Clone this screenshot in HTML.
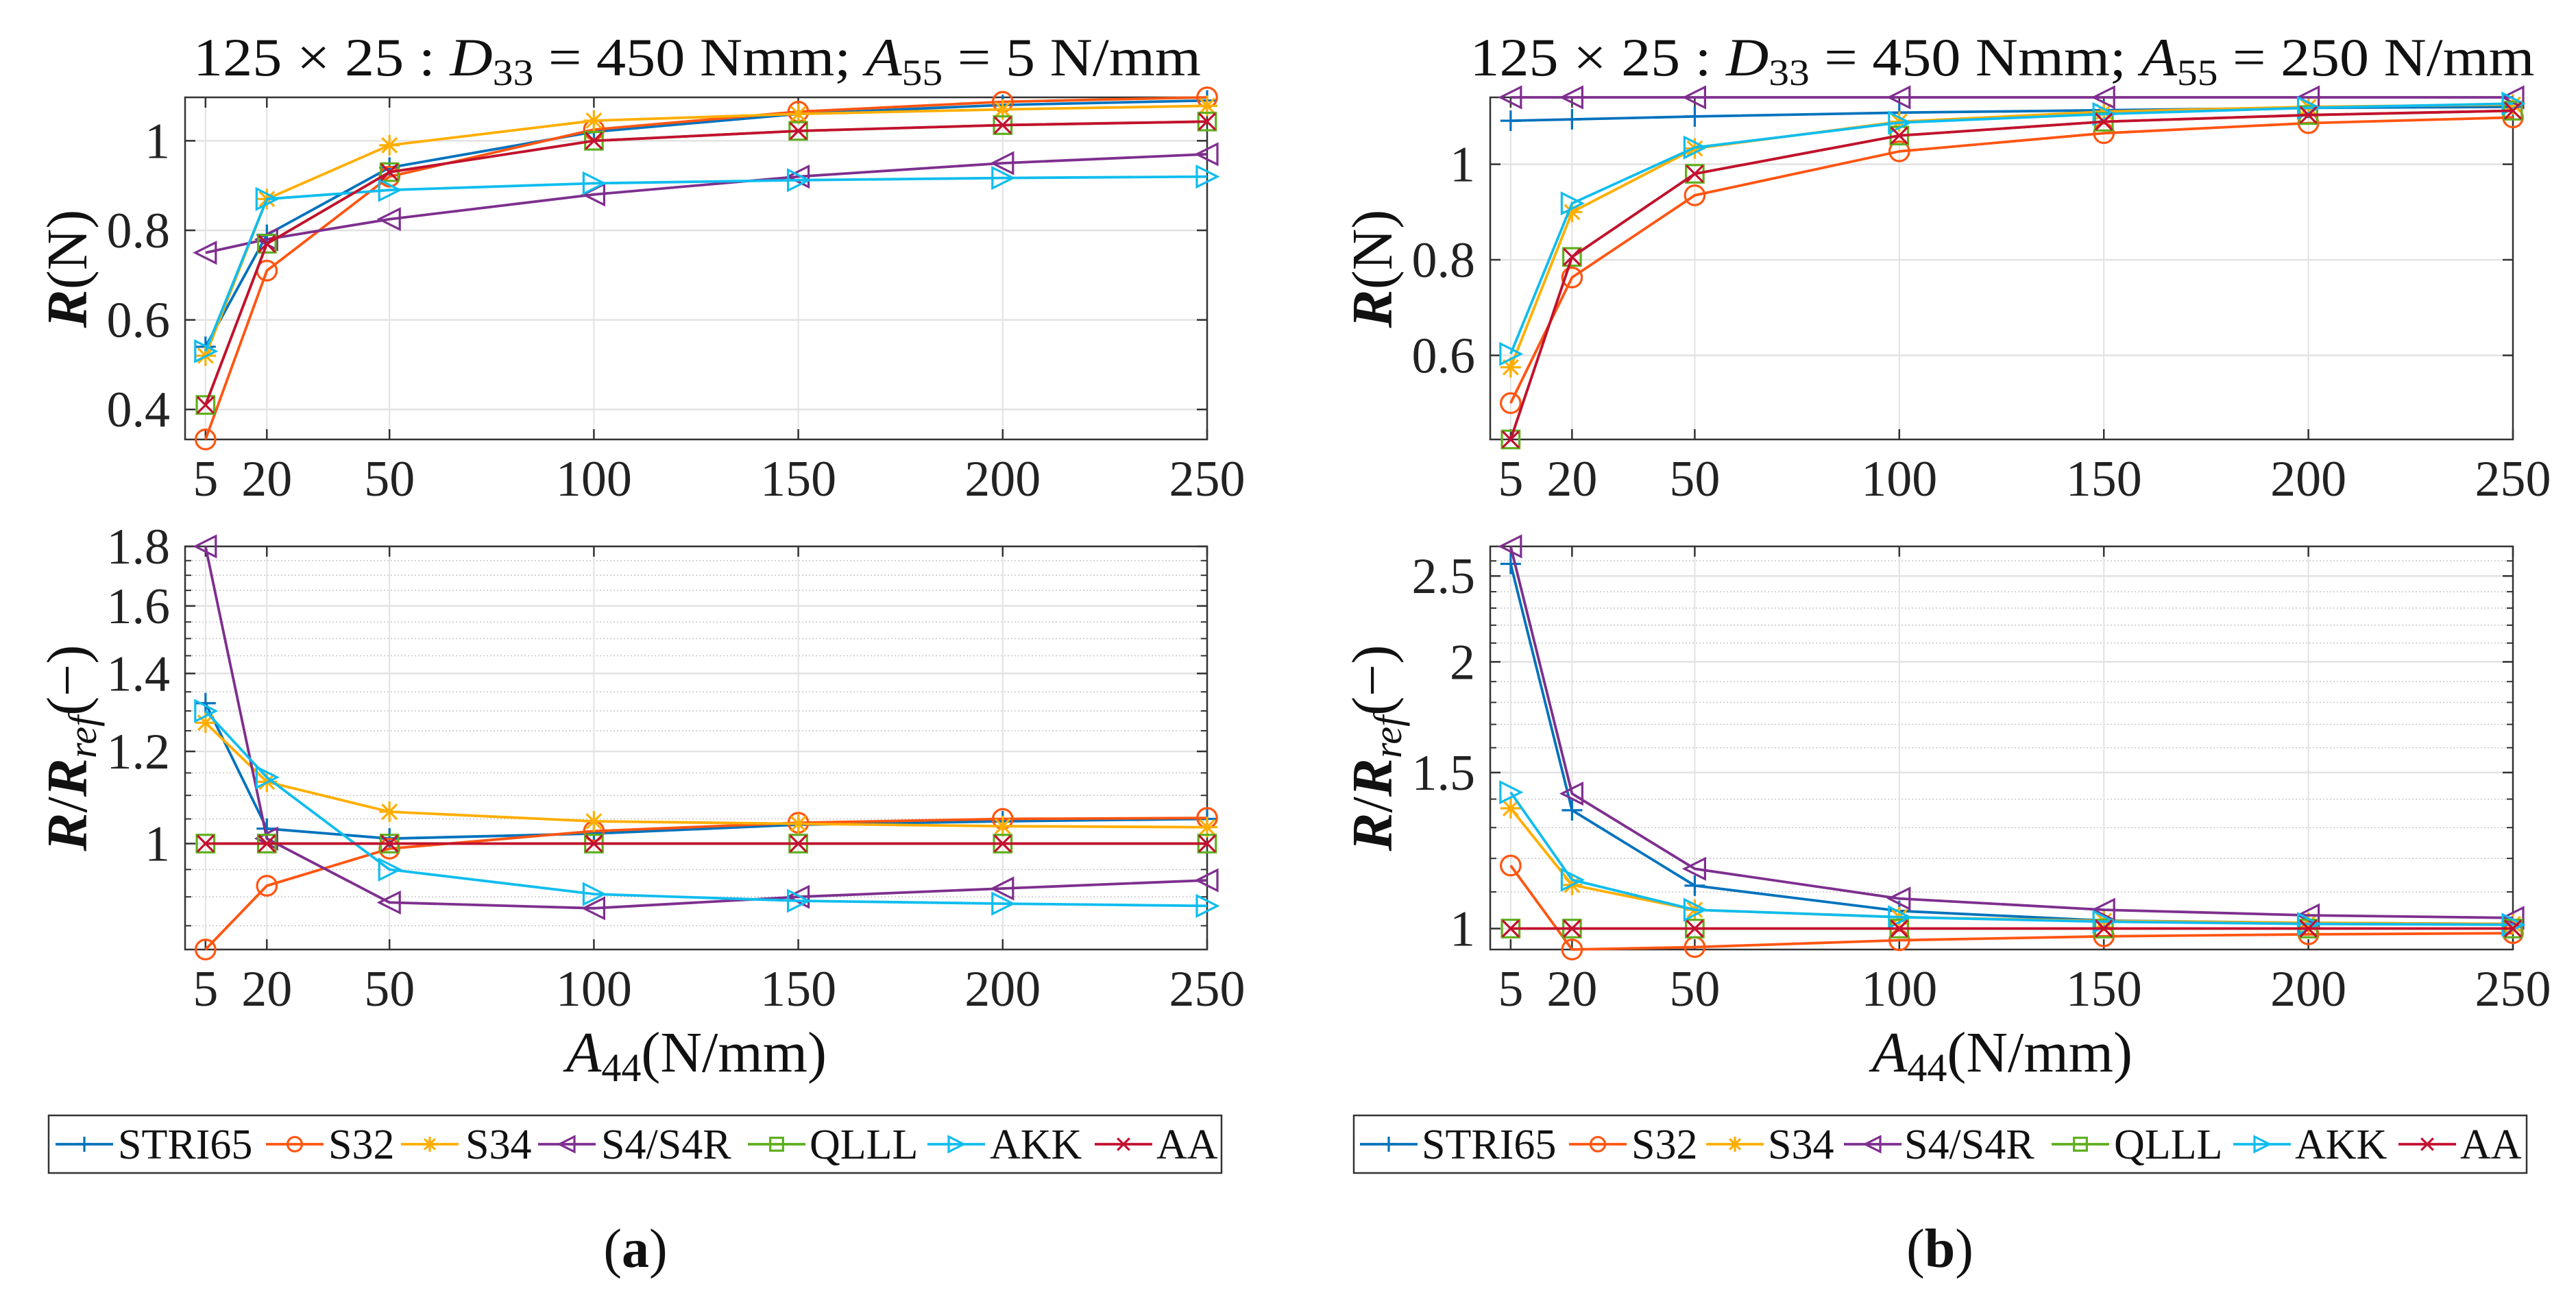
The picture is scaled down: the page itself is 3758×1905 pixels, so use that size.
<!DOCTYPE html>
<html><head><meta charset="utf-8"><style>
html,body{margin:0;padding:0;background:#fff;}
svg{display:block;}
text{font-family:"Liberation Serif","DejaVu Serif",serif;}
</style></head><body>
<svg id="fig" width="3758" height="1905" viewBox="0 0 3758 1905" xmlns="http://www.w3.org/2000/svg" font-family="Liberation Serif, serif"></svg>
<script>
const xCats = [5, 20, 50, 100, 150, 200, 250];
const xTicks = [5, 20, 50, 100, 150, 200, 250];
const seriesNames = ["STRI65","S32","S34","S4/S4R","QLLL","AKK","AA"];
const colors = ["#0072BD","#FF5511","#FFAE00","#7E2F8E","#5FAF1E","#10BDEE","#C4102F"];
const markers = ["plus","circle","star","tril","square","trir","x"];

// panel (a) R(N)
const aR_STRI65 = [0.54, 0.79, 0.94, 1.02, 1.06, 1.08, 1.09];
const aR_S32    = [0.333, 0.71, 0.92, 1.025, 1.065, 1.087, 1.097];
const aR_S34    = [0.52, 0.87, 0.99, 1.045, 1.06, 1.07, 1.078];
const aR_S4     = [0.75, 0.78, 0.825, 0.88, 0.92, 0.95, 0.97];
const aR_QLLL   = [0.41, 0.77, 0.93, 1.0, 1.022, 1.035, 1.043];
const aR_AKK    = [0.53, 0.87, 0.89, 0.905, 0.912, 0.917, 0.92];
const aR_AA     = [0.41, 0.77, 0.93, 1.0, 1.022, 1.035, 1.043];
// panel (a) R/Rref
const aQ_STRI65 = [1.32, 1.03, 1.01, 1.02, 1.038, 1.045, 1.05];
const aQ_S32    = [0.811, 0.92, 0.99, 1.025, 1.042, 1.05, 1.052];
const aQ_S34    = [1.27, 1.13, 1.065, 1.045, 1.04, 1.035, 1.033];
const aQ_S4     = [1.80, 1.01, 0.89, 0.88, 0.90, 0.915, 0.93];
const aQ_QLLL   = [1, 1, 1, 1, 1, 1, 1];
const aQ_AKK    = [1.30, 1.14, 0.95, 0.905, 0.893, 0.888, 0.884];
const aQ_AA     = [1, 1, 1, 1, 1, 1, 1];
// panel (b) R(N)
const bR_STRI65 = [1.091, 1.094, 1.10, 1.108, 1.113, 1.118, 1.12];
const bR_S32    = [0.50, 0.763, 0.935, 1.027, 1.065, 1.086, 1.098];
const bR_S34    = [0.575, 0.90, 1.033, 1.089, 1.11, 1.12, 1.125];
const bR_S4     = [1.14, 1.14, 1.14, 1.14, 1.14, 1.14, 1.14];
const bR_QLLL   = [0.424, 0.806, 0.98, 1.06, 1.089, 1.103, 1.112];
const bR_AKK    = [0.603, 0.918, 1.035, 1.087, 1.105, 1.118, 1.127];
const bR_AA     = [0.424, 0.806, 0.98, 1.06, 1.089, 1.103, 1.112];
// panel (b) R/Rref
const bQ_STRI65 = [2.58, 1.36, 1.118, 1.047, 1.021, 1.015, 1.012];
const bQ_S32    = [1.178, 0.947, 0.953, 0.97, 0.98, 0.985, 0.988];
const bQ_S34    = [1.367, 1.12, 1.05, 1.03, 1.02, 1.015, 1.012];
const bQ_S4     = [2.70, 1.42, 1.168, 1.081, 1.05, 1.035, 1.028];
const bQ_QLLL   = [1, 1, 1, 1, 1, 1, 1];
const bQ_AKK    = [1.425, 1.135, 1.05, 1.03, 1.018, 1.012, 1.01];
const bQ_AA     = [1, 1, 1, 1, 1, 1, 1];

const aRTicks = [0.4, 0.6, 0.8, 1];
const aQTicks = [1, 1.2, 1.4, 1.6, 1.8];
const bRTicks = [0.6, 0.8, 1];
const bQTicks = [1, 1.5, 2, 2.5];

const NS = "http://www.w3.org/2000/svg";
const svg = document.getElementById("fig");
const FF = "Liberation Serif, DejaVu Serif, serif";
function mk(tag, attrs, parent, text){
  const e = document.createElementNS(NS, tag);
  for (const k in attrs) e.setAttribute(k, attrs[k]);
  if (tag === "text") e.setAttribute("font-family", FF);
  if (text !== undefined) e.textContent = text;
  (parent || svg).appendChild(e);
  return e;
}

function marker(g, type, cx, cy, col, s){
  let e;
  const sw = 3.2;
  if (type === "plus"){
    e = mk("path",{d:`M${cx-s} ${cy}H${cx+s}M${cx} ${cy-s}V${cy+s}`,stroke:col,"stroke-width":sw,fill:"none"},g);
  } else if (type === "circle"){
    e = mk("circle",{cx:cx,cy:cy,r:s*0.95,stroke:col,"stroke-width":sw,fill:"none"},g);
  } else if (type === "star"){
    const d=s*0.72;
    e = mk("path",{d:`M${cx-s} ${cy}H${cx+s}M${cx} ${cy-s}V${cy+s}M${cx-d} ${cy-d}L${cx+d} ${cy+d}M${cx-d} ${cy+d}L${cx+d} ${cy-d}`,stroke:col,"stroke-width":sw,fill:"none"},g);
  } else if (type === "tril"){
    e = mk("path",{d:`M${cx-s} ${cy}L${cx+s} ${cy-s}L${cx+s} ${cy+s}Z`,stroke:col,"stroke-width":sw,fill:"none"},g);
  } else if (type === "trir"){
    e = mk("path",{d:`M${cx+s} ${cy}L${cx-s} ${cy-s}L${cx-s} ${cy+s}Z`,stroke:col,"stroke-width":sw,fill:"none"},g);
  } else if (type === "square"){
    e = mk("rect",{x:cx-s*0.85,y:cy-s*0.85,width:s*1.7,height:s*1.7,stroke:col,"stroke-width":sw,fill:"none"},g);
  } else {
    const d=s*0.8;
    e = mk("path",{d:`M${cx-d} ${cy-d}L${cx+d} ${cy+d}M${cx-d} ${cy+d}L${cx+d} ${cy-d}`,stroke:col,"stroke-width":sw,fill:"none"},g);
  }
  return e;
}

function panel(opt){
  const g = mk("g",{});
  
  
  const L=opt.L,R=opt.R,T=opt.T,B=opt.B;
  const xs = v => L + (v-0)/250*(R-L);
  let ys;
  if (opt.log){
    const a=Math.log10(opt.ymin), b=Math.log10(opt.ymax);
    ys = v => B - (Math.log10(v)-a)/(b-a)*(B-T);
  } else {
    ys = v => B - (v-opt.ymin)/(opt.ymax-opt.ymin)*(B-T);
  }
  if (opt.minor){
    for (const m of opt.minor){
      if (m<=opt.ymin||m>=opt.ymax) continue;
      const y=ys(m);
      mk("line",{x1:L,x2:R,y1:y,y2:y,stroke:"#c8c8c8","stroke-width":1.5,"stroke-dasharray":"2 3"},g);
      mk("line",{x1:L,x2:L+9,y1:y,y2:y,stroke:"#333","stroke-width":2},g);
      mk("line",{x1:R-9,x2:R,y1:y,y2:y,stroke:"#333","stroke-width":2},g);
    }
  }
  for (const t of xTicks){
    const x=xs(t);
    mk("line",{x1:x,x2:x,y1:T,y2:B,stroke:"#e2e2e2","stroke-width":2},g);
  }
  for (const t of opt.yTicks){
    const y=ys(t);
    mk("line",{x1:L,x2:R,y1:y,y2:y,stroke:"#e2e2e2","stroke-width":2.5},g);
  }
  const box = mk("rect",{x:L,y:T,width:R-L,height:B-T,fill:"none",stroke:"#333","stroke-width":2.5},g);
  
  
  const xg = mk("g",{},g);
  
  
  for (const t of xTicks){
    const x=xs(t);
    mk("line",{x1:x,x2:x,y1:B,y2:B-15,stroke:"#333","stroke-width":2.5},xg);
    mk("line",{x1:x,x2:x,y1:T,y2:T+15,stroke:"#333","stroke-width":2.5},xg);
    const tl = mk("text",{x:x,y:B+82,"text-anchor":"middle","font-size":74,fill:"#222"},xg,String(t));
    
    
  }
  const yg = mk("g",{},g);
  
  
  for (const t of opt.yTicks){
    const y=ys(t);
    mk("line",{x1:L,x2:L+15,y1:y,y2:y,stroke:"#333","stroke-width":2.5},yg);
    mk("line",{x1:R-15,x2:R,y1:y,y2:y,stroke:"#333","stroke-width":2.5},yg);
    const tl = mk("text",{x:opt.ytlx,y:y+25,"text-anchor":"end","font-size":74,fill:"#222"},yg,String(t));
    
    
  }
  const clip = "clip_"+opt.name;
  const cp = mk("clipPath",{id:clip},g);
  mk("rect",{x:L-40,y:T-40,width:R-L+80,height:B-T+80},cp);
  opt.data.forEach((vals,i)=>{
    const sg = mk("g",{"clip-path":`url(#${clip})`},g);
    
    
    const pts = vals.map((v,j)=>`${xs(xCats[j]).toFixed(1)},${ys(v).toFixed(1)}`).join(" ");
    const pl = mk("polyline",{points:pts,fill:"none",stroke:colors[i],"stroke-width":3.8,"stroke-linejoin":"round"},sg);
    
    
    vals.forEach((v,j)=>{
      const m = marker(sg, markers[i], xs(xCats[j]), ys(v), colors[i], 15);
      
      
    });
  });
  return g;
}

const minorA = [];
for (let v=0.85; v<1.8; v+=0.05){ const r=Math.round(v*100)/100; if (![1,1.2,1.4,1.6].includes(r)) minorA.push(r); }
const minorB = [];
for (let v=1.0; v<2.7; v+=0.1){ const r=Math.round(v*10)/10; if (![1,1.5,2,2.5].includes(r)) minorB.push(r); }

panel({name:"plot-a-r",L:270,R:1761,T:142,B:641,ymin:0.333,ymax:1.097,yTicks:aRTicks,ytlx:248,
  data:[aR_STRI65,aR_S32,aR_S34,aR_S4,aR_QLLL,aR_AKK,aR_AA]});
panel({name:"plot-a-ratio",L:270,R:1761,T:797,B:1385,ymin:0.811,ymax:1.80,log:true,yTicks:aQTicks,minor:minorA,ytlx:248,
  data:[aQ_STRI65,aQ_S32,aQ_S34,aQ_S4,aQ_QLLL,aQ_AKK,aQ_AA]});
panel({name:"plot-b-r",L:2174,R:3666,T:142,B:641,ymin:0.424,ymax:1.14,yTicks:bRTicks,ytlx:2152,
  data:[bR_STRI65,bR_S32,bR_S34,bR_S4,bR_QLLL,bR_AKK,bR_AA]});
panel({name:"plot-b-ratio",L:2174,R:3666,T:797,B:1385,ymin:0.947,ymax:2.70,log:true,yTicks:bQTicks,minor:minorB,ytlx:2152,
  data:[bQ_STRI65,bQ_S32,bQ_S34,bQ_S4,bQ_QLLL,bQ_AKK,bQ_AA]});

function title(cx, a55, name, len){
  const t = mk("text",{x:cx,y:110,"text-anchor":"middle","font-size":78,fill:"#111",textLength:len,lengthAdjust:"spacingAndGlyphs"});
  
  
  t.innerHTML = `125 × 25 : <tspan font-style="italic">D</tspan><tspan font-size="54" dy="14">33</tspan><tspan dy="-14"> = 450 Nmm; </tspan><tspan font-style="italic">A</tspan><tspan font-size="54" dy="14">55</tspan><tspan dy="-14"> = ${a55} N/mm</tspan>`;
}
title(1017, "5", "title-a", 1470);
title(2921, "250", "title-b", 1553);

function ylabel(cx, cy, html, name){
  const t = mk("text",{x:0,y:0,"text-anchor":"middle","font-size":84,fill:"#111",transform:`translate(${cx},${cy}) rotate(-90)`});
  
  
  t.innerHTML = html;
}
const rn = `<tspan font-style="italic" font-weight="bold">R</tspan>(N)`;
const rr = `<tspan font-style="italic" font-weight="bold">R</tspan>/<tspan font-style="italic" font-weight="bold">R</tspan><tspan font-style="italic" font-size="58" dy="14">ref</tspan><tspan dy="-14">(−)</tspan>`;
ylabel(126, 392, rn, "y-axis-title-a-top");
ylabel(126, 1091, rr, "y-axis-title-a-bottom");
ylabel(2030, 392, rn, "y-axis-title-b-top");
ylabel(2030, 1091, rr, "y-axis-title-b-bottom");

function xlabel(cx, name){
  const t = mk("text",{x:cx,y:1563,"text-anchor":"middle","font-size":84,fill:"#111"});
  
  
  t.innerHTML = `<tspan font-style="italic">A</tspan><tspan font-size="58" dy="14">44</tspan><tspan dy="-14">(N/mm)</tspan>`;
}
xlabel(1016, "x-axis-title-a");
xlabel(2921, "x-axis-title-b");

function legend(x0, x1, lineX, textX, name){
  const g = mk("g",{});
  
  
  mk("rect",{x:x0,y:1627,width:x1-x0,height:84,fill:"#fff",stroke:"#333","stroke-width":2.5},g);
  seriesNames.forEach((n,i)=>{
    const eg = mk("g",{},g);
    
    
    const y=1669;
    mk("line",{x1:lineX[i],x2:lineX[i]+84,y1:y,y2:y,stroke:colors[i],"stroke-width":3.8},eg);
    marker(eg, markers[i], lineX[i]+42, y, colors[i], 11);
    mk("text",{x:textX[i],y:y+21,"font-size":62,fill:"#111"},eg,n);
  });
}
legend(71,1782,[81,388,585,785,1091,1353,1597],[172,479,679,877,1181,1444,1687],"legend-a");
legend(1975,3686,[1984,2289,2489,2690,2993,3258,3499],[2074,2380,2579,2778,3084,3348,3589],"legend-b");

const ca = mk("text",{x:927,y:1848,"text-anchor":"middle","font-size":80,fill:"#111"});


ca.innerHTML = `(<tspan font-weight="bold">a</tspan>)`;
const cb = mk("text",{x:2830,y:1848,"text-anchor":"middle","font-size":80,fill:"#111"});


cb.innerHTML = `(<tspan font-weight="bold">b</tspan>)`;
</script>
</body></html>
